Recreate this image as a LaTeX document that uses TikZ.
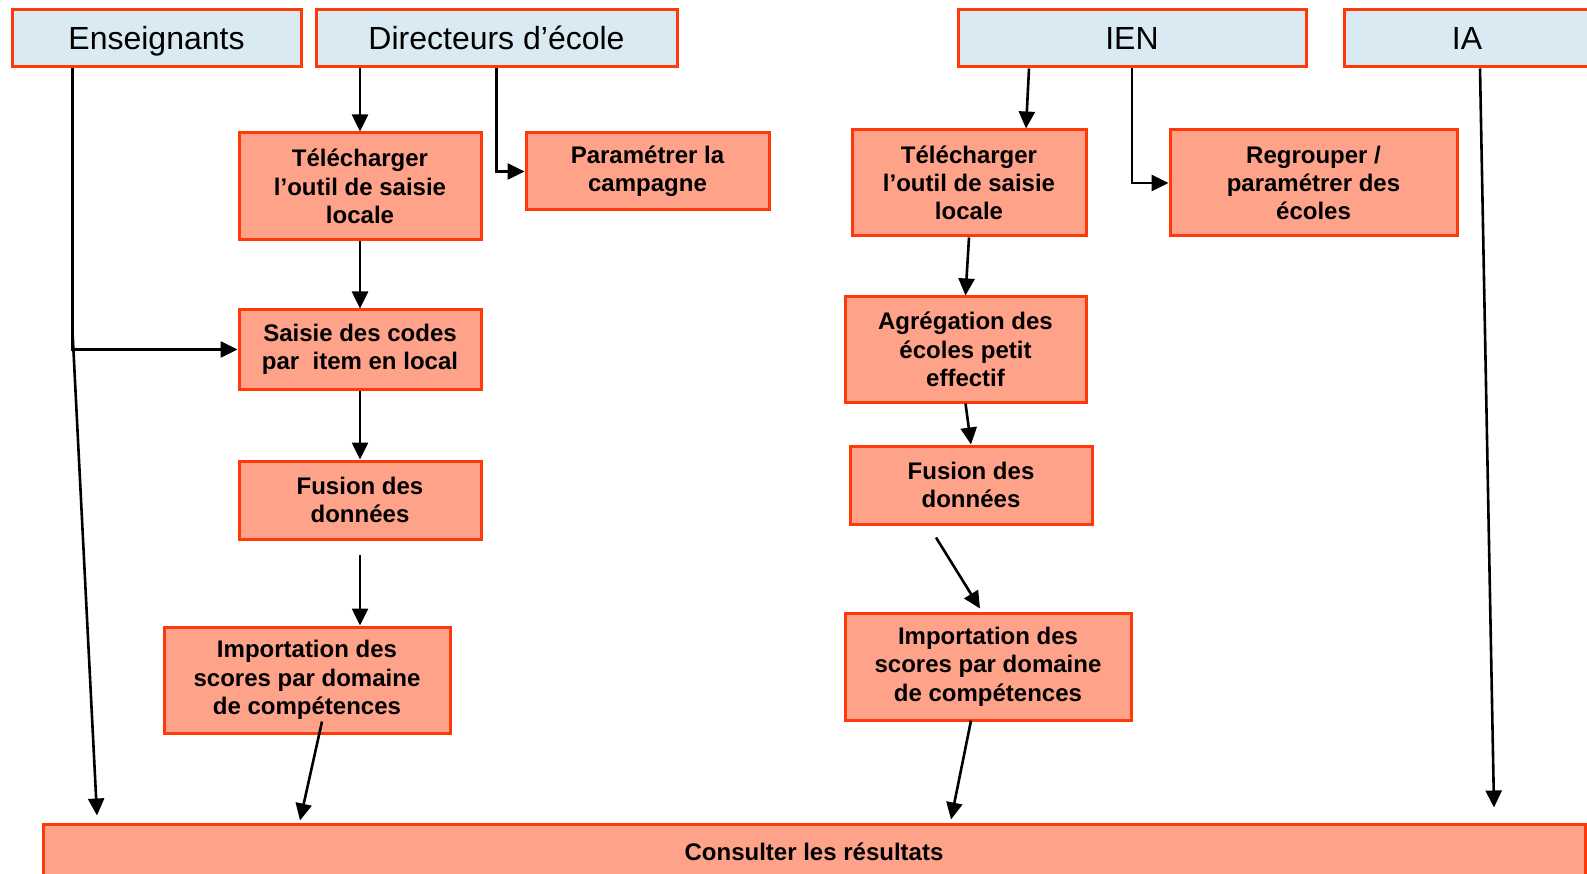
\documentclass[tikz,border=0pt]{standalone}
\usepackage{fontspec}
\setmainfont{Liberation Sans}
\usetikzlibrary{arrows.meta,positioning}
\definecolor{bordure}{HTML}{FF3A0A}
\definecolor{bleuclair}{HTML}{DAEAF2}
\definecolor{saumon}{HTML}{FFA28A}

\begin{document}
\begin{tikzpicture}[x=1pt, y=-1pt,
    role/.style={rectangle, draw=bordure, fill=bleuclair, line width=3pt, minimum height=57pt, inner sep=0pt, text height=23pt, text depth=0pt, font=\fontsize{32}{36}\selectfont},
    task/.style={rectangle, draw=bordure, fill=saumon, line width=3pt, inner sep=0pt, align=center, font=\fontsize{24}{28.3}\selectfont\bfseries},
    flow/.style={-{Triangle[length=17pt,width=16pt]}, line width=2.6pt, black}
]

\useasboundingbox (0,0) rectangle (1587,874);

% ACTEURS
\node[role, minimum width=289pt] (ens) at (156.5,38.5) {Enseignants};
\node[role, minimum width=361pt] (dir) at (496.5,38.5) {Directeurs d’école};
\node[role, minimum width=348pt] (ien) at (1132,38.5) {IEN};
\node[role, minimum width=246pt] (ia) at (1467,38.5) {IA};

% ECOLE
\node[task, minimum width=242pt, minimum height=107pt] (tel1) at (360,186.5) {Télécharger\\l’outil de saisie\\locale};
\node[task, minimum width=243pt, minimum height=77pt] (param) at (647.5,171.5) {Paramétrer la\\campagne};
\node[task, minimum width=242pt, minimum height=79pt] (saisie) at (360,349.5) {Saisie des codes\\par\ \ item en local};
\node[task, minimum width=242pt, minimum height=78pt] (fus1) at (360,500) {Fusion des\\données};
\node[task, minimum width=286pt, minimum height=106pt] (imp1) at (307,680) {Importation des\\scores par domaine\\de compétences};

% CIRCONSCRIPTION
\node[task, minimum width=234pt, minimum height=106pt] (tel2) at (969,183) {Télécharger\\l’outil de saisie\\locale};
\node[task, minimum width=287pt, minimum height=106pt] (regr) at (1313.5,183) {Regrouper /\\paramétrer des\\écoles};
\node[task, minimum width=241pt, minimum height=105pt] (agreg) at (965.5,349.5) {Agrégation des\\écoles petit\\effectif};
\node[task, minimum width=242pt, minimum height=78pt] (fus2) at (971,485) {Fusion des\\données};
\node[task, minimum width=286pt, minimum height=107pt] (imp2) at (988,666.5) {Importation des\\scores par domaine\\de compétences};

% RESULTATS
\node[task, minimum width=1542pt, minimum height=56pt] (resu) at (814,852) {Consulter les résultats};

% FLECHES ENSEIGNANTS
\draw[flow] ([xshift=-84pt]ens.south) |- (saisie.west);
\draw[flow] ([xshift=-84pt,yshift=-263pt]ens.south) -- ([xshift=-717pt,yshift=7pt]resu.north);

% FLECHES DIRECTEURS
\draw[flow] (tel1.north |- dir.south) -- (tel1.north);
\draw[flow] (dir.south) |- (param.west);
\draw[flow] (tel1) -- (saisie);
\draw[flow] (saisie) -- (fus1);
\draw[flow] ([yshift=-14pt]fus1.south) -- (fus1.south |- imp1.north);
\draw[flow] ([xshift=15pt,yshift=13pt]imp1.south) -- ([xshift=-514pt,yshift=2pt]resu.north);

% FLECHES IEN
\draw[flow] ([xshift=-103pt]ien.south) -- ([xshift=57pt]tel2.north);
\draw[flow] (ien.south) |- (regr.west);
\draw[flow] (tel2.south) -- (agreg.north);
\draw[flow] (agreg.south) -- (fus2.north);
\draw[flow] ([xshift=-35pt,yshift=-12pt]fus2.south) -- ([xshift=-8pt,yshift=3pt]imp2.north);
\draw[flow] ([xshift=-17pt,yshift=1pt]imp2.south) -- ([xshift=137pt,yshift=3pt]resu.north);

% FLECHE IA
\draw[flow] ([xshift=13pt]ia.south) -- ([xshift=680pt,yshift=15pt]resu.north);

\end{tikzpicture}
\end{document}
